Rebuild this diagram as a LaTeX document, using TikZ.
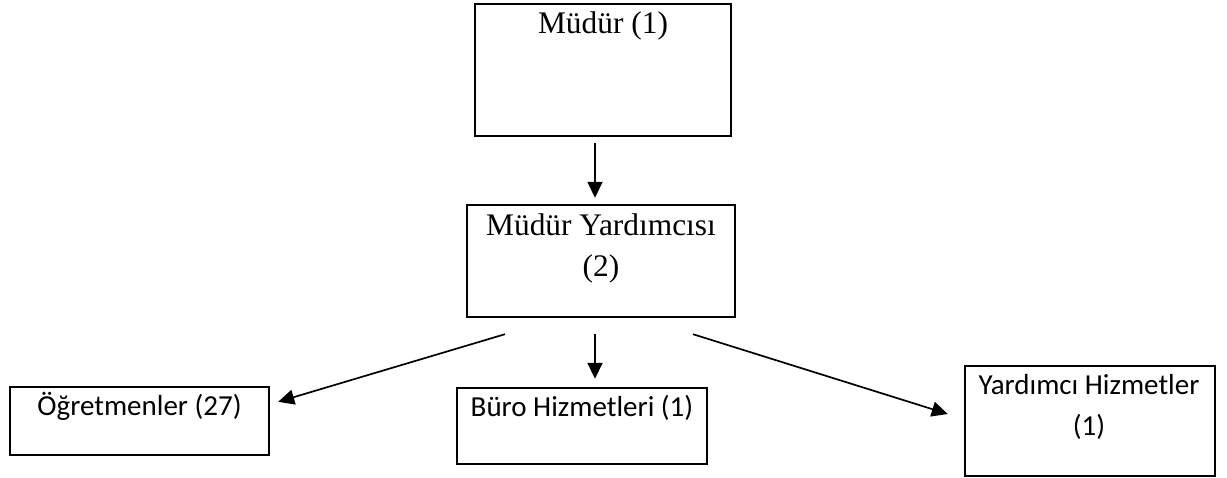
\documentclass[tikz,border=0pt]{standalone}
\usepackage{fontspec}
\setmainfont{Liberation Serif}
\newfontfamily\calibrifont{Carlito}
\usetikzlibrary{calc,arrows.meta}
\tikzset{
  box/.style={draw, line width=2.4pt, inner sep=0pt},
  serif/.style={anchor=base, inner sep=0pt, font=\fontsize{31.4}{38}\selectfont},
  sans/.style={anchor=base, inner sep=0pt, font=\calibrifont\fontsize{29}{35}\selectfont},
  conn/.style={line width=1.7pt, -{Triangle[length=16pt,width=15pt]}}
}
\begin{document}
\begin{tikzpicture}[x=1pt,y=-1pt]
\useasboundingbox (0,0) rectangle (1227,477);
% boxes
\node[box, minimum width=256pt, minimum height=132pt] (m) at (603,70) {};
\node[box, minimum width=268pt, minimum height=112pt] (my) at (601,261) {};
\node[box, minimum width=259pt, minimum height=68pt] (og) at (139.5,421) {};
\node[box, minimum width=250pt, minimum height=76pt] (bh) at (582,426) {};
\node[box, minimum width=250pt, minimum height=110pt] (yh) at (1090,421) {};
% texts
\node[serif] (tm) at (603,33) {Müdür (1)};
\node[serif] (tmy1) at (601,235) {Müdür Yardımcısı};
\node[serif] (tmy2) at (601,276) {(2)};
\node[sans] (tog) at (139.5,415) {Öğretmenler (27)};
\node[sans] (tbh) at (582,416) {Büro Hizmetleri (1)};
\node[sans] (tyh1) at (1089,394) {Yardımcı Hizmetler};
\node[sans] (tyh2) at (1089,435) {(1)};
% connectors
\draw[conn] ($(m.south)+(-8,6)$) -- ($(my.north)+(-6,-6)$);
\draw[conn] ($(my.south)+(-96,16)$) -- ($(og.north east)+(8,16)$);
\draw[conn] ($(my.south)+(-6,16)$) -- ($(bh.north)+(13,-8)$);
\draw[conn] ($(my.south)+(92,16)$) -- ($(yh.west)+(-16,-7)$);
\end{tikzpicture}
\end{document}
